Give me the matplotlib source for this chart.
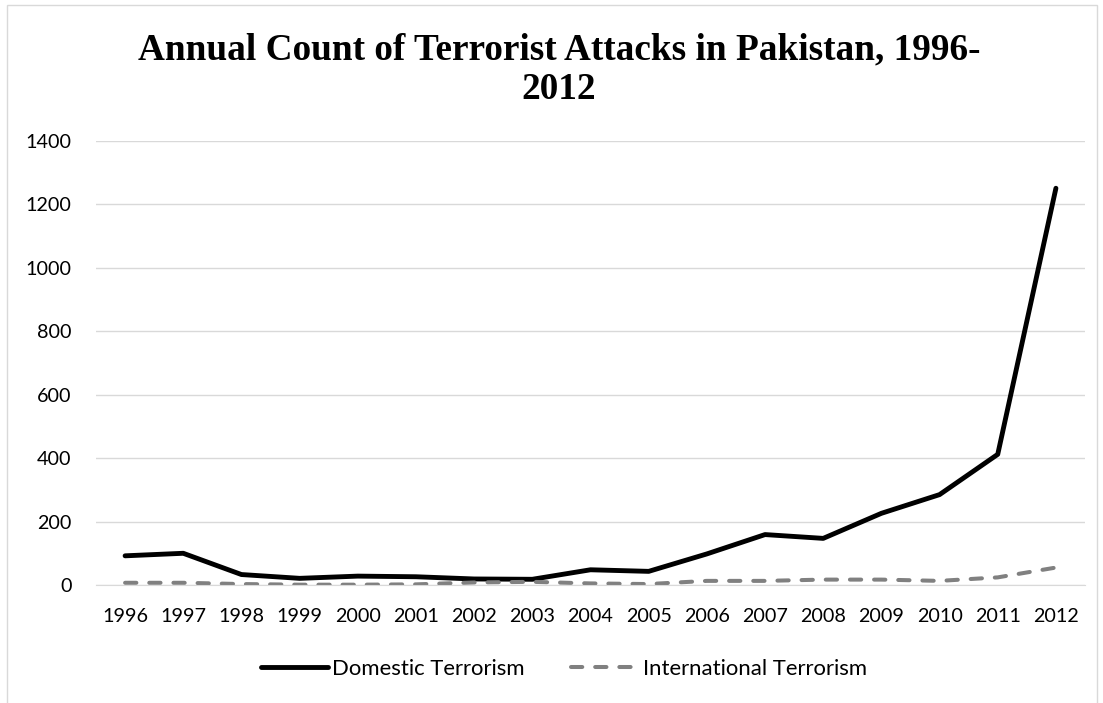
import matplotlib
matplotlib.use("Agg")
import matplotlib.pyplot as plt
from matplotlib.patches import Rectangle

years = [str(y) for y in range(1996, 2013)]
domestic = [92, 100, 33, 21, 28, 26, 19, 18, 48, 43, 98, 159, 147, 226, 285, 412, 1251]
international = [7, 7, 3, 1, 1, 2, 8, 10, 5, 3, 13, 13, 17, 17, 13, 24, 55]
yticks = [0, 200, 400, 600, 800, 1000, 1200, 1400]
title_lines = ["Annual Count of Terrorist Attacks in Pakistan, 1996-", "2012"]

W, H = 1103, 703
fig = plt.figure(figsize=(W / 100, H / 100), dpi=100)
fig.patches.append(Rectangle((7 / W, -0.01), (W - 13) / W, 1 - 5 / H + 0.01,
                             transform=fig.transFigure, fill=False,
                             edgecolor="#d9d9d9", linewidth=1))

ax = fig.add_axes([96 / W, 1 - 585 / H, (1085 - 96) / W, (585 - 141) / H])
x = list(range(len(years)))
ax.plot(x, domestic, color="black", linewidth=3.5, solid_capstyle="round",
        solid_joinstyle="round", label="Domestic Terrorism")
ax.plot(x, international, color="#808080", linewidth=2.9, dashes=(2.8, 3.2),
        dash_capstyle="round", label="International Terrorism")

ax.set_xlim(-0.5, len(years) - 0.5)
ax.set_ylim(0, 1400)
ax.set_yticks(yticks)
ax.set_xticks(x)
ax.set_xticklabels(years)
ax.grid(axis="y", color="#d9d9d9", linewidth=1)
ax.set_axisbelow(True)
for s in ["top", "right", "left"]:
    ax.spines[s].set_visible(False)
ax.spines["bottom"].set_color("#d9d9d9")
ax.tick_params(axis="both", length=0, labelsize=14.2, colors="#000000")
ax.tick_params(axis="y", pad=17.5)
ax.tick_params(axis="x", pad=16.5)
for lab in ax.get_xticklabels() + ax.get_yticklabels():
    lab.set_family(["Lato", "DejaVu Sans"])

for txt, ypix in zip(title_lines, [59, 99]):
    fig.text(559 / W, 1 - ypix / H, txt, ha="center", va="baseline", fontsize=26.8,
             fontweight="bold", family=["Liberation Serif", "DejaVu Serif"])

leg = fig.legend(loc="center", bbox_to_anchor=(564 / W, 1 - 669 / H), ncol=2, frameon=False,
                 prop={"family": ["Lato", "DejaVu Sans"], "size": 15.9},
                 handlelength=3.0, columnspacing=2.1, handletextpad=0.22)

fig.savefig("out.png", dpi=100)
